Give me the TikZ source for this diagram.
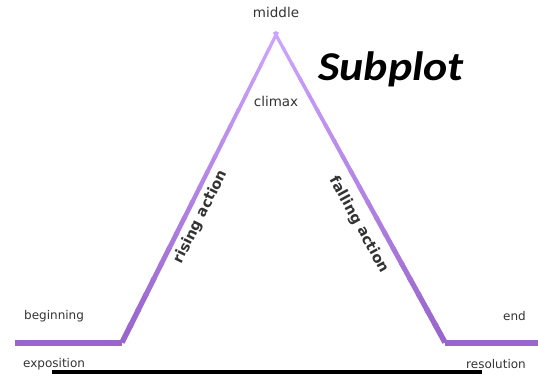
\documentclass[tikz,border=0pt]{standalone}
\usepackage{fontspec}
\setmainfont{DejaVu Sans}
\newfontfamily\titlefont{Carlito}
\usetikzlibrary{calc}
\definecolor{plotpurple}{HTML}{9966CC}
\definecolor{plotlilac}{HTML}{CFA6FF}
\definecolor{plotgray}{HTML}{333333}
\tikzset{%
	stage/.style = {text=plotgray, font=\fontsize{12}{14}\selectfont, inner sep=0pt},
	peaklabel/.style = {text=plotgray, font=\fontsize{13.5}{15}\selectfont, inner sep=0pt},
	slope/.style = {text=plotgray, font=\bfseries\fontsize{14.5}{16}\selectfont, inner sep=0pt},
	plotline/.style = {line width=6pt, plotpurple},
}
\begin{document}
\begin{tikzpicture}[x=1pt,y=-1pt]
	\useasboundingbox (0,0) rectangle (538,375);
	% corners of the plot line
	\coordinate (start) at (15,342.5);
	\coordinate (rise) at (122,342.5);
	\coordinate (peak) at (276,35);
	\coordinate (fall) at (445,342.5);
	\coordinate (stop) at (538,342.5);

	\draw[plotline] (start) -- (rise);
	\draw[plotline] (fall) -- (stop);
	% slopes, lighter towards the peak
	\foreach \i in {0,...,19}{
		\pgfmathsetmacro{\p}{100-5*\i}
		\pgfmathsetmacro{\w}{5.5-0.12*\i}
		\draw[line width=\w pt, plotpurple!\p!plotlilac] ($(rise)!\i/20!(peak)$) -- ($(rise)!\i/20+0.06!(peak)$);
		\draw[line width=\w pt, plotpurple!\p!plotlilac] ($(fall)!\i/20!(peak)$) -- ($(fall)!\i/20+0.06!(peak)$);
	}
	\fill[plotlilac] (peak) circle (1.5pt);

	\node[peaklabel] (middle) at (276,12) {middle};
	\node[peaklabel] (climax) at (276,101) {climax};
	\node[stage, anchor=west] (beginning) at (24,316) {beginning};
	\node[stage, anchor=west] (exposition) at (23,364) {exposition};
	\node[stage, anchor=east] (end) at (526,316) {end};
	\node[stage, anchor=east] (resolution) at (526,364) {resolution};
	\node[slope, rotate=63.4] (rising) at (201,217) {rising action};
	\node[slope, rotate=-61.2] (falling) at (359,225) {falling action};
	\node[inner sep=0pt, xscale=1.12, font=\titlefont\bfseries\itshape\fontsize{41}{45}\selectfont] (subplot) at (391,69) {Subplot};

	\draw[line width=4pt, black] (52,372) -- (482,372);
\end{tikzpicture}
\end{document}
